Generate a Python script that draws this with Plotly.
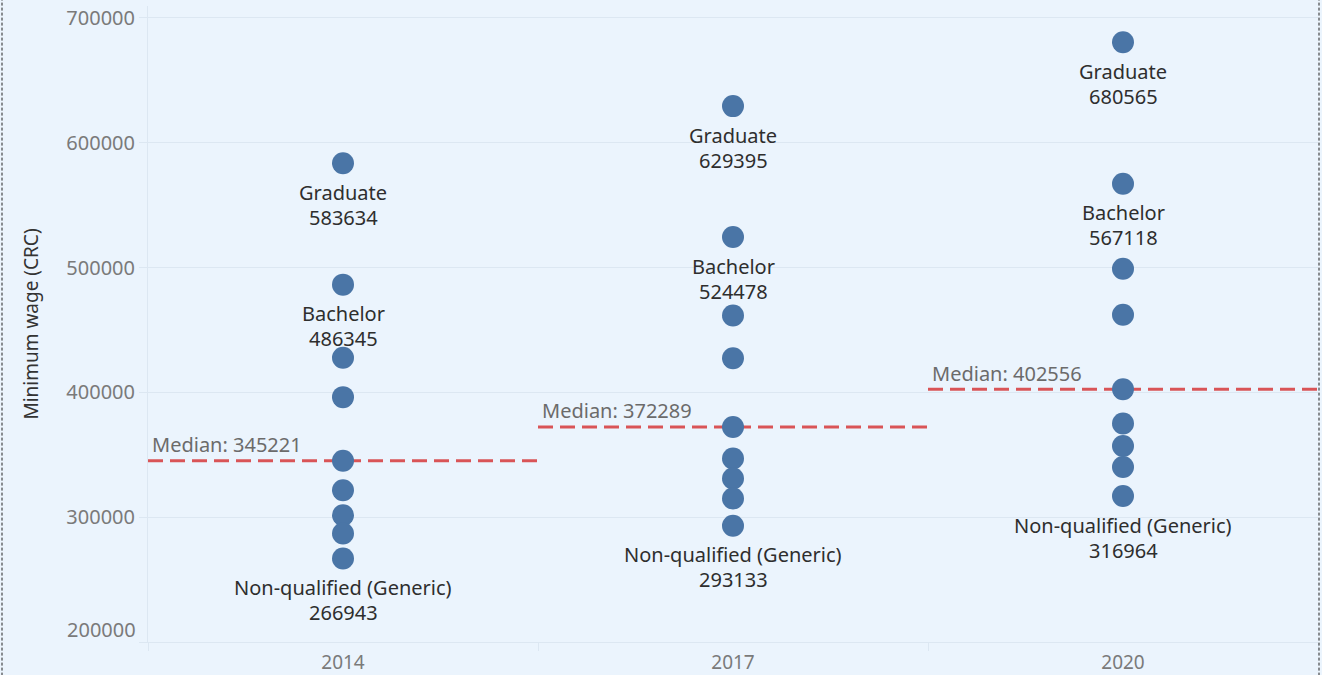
import numpy as np
import plotly.graph_objects as go

# Minimum wage by qualification level (CRC), one column per year
years = ["2014", "2017", "2020"]

wages_2014 = [583634, 486345, 427800, 396200, 345221, 321600, 301600, 287000, 266943]
wages_2017 = [629395, 524478, 461600, 427400, 372289, 347000, 331000, 315000, 293133]
wages_2020 = [680565, 567118, 499000, 462200, 402556, 375000, 357000, 340200, 316964]

levels_2014 = ["Graduate", "Bachelor", "", "", "", "", "", "", "Non-qualified (Generic)"]
levels_2017 = ["Graduate", "Bachelor", "", "", "", "", "", "", "Non-qualified (Generic)"]
levels_2020 = ["Graduate", "Bachelor", "", "", "", "", "", "", "Non-qualified (Generic)"]

y_ticks = [200000, 300000, 400000, 500000, 600000, 700000]

wages = [wages_2014, wages_2017, wages_2020]
levels = [levels_2014, levels_2017, levels_2020]

FONT = "Noto Sans"
BG = "#ebf4fd"
GRID = "#dce7f2"
DOT = "#4a75a6"
MEDIAN = "#d95457"
LABEL = "#2e2e2e"
TICK = "#7a7a7a"

fig = go.Figure()

xs, ys = [], []
for yr, vals in zip(years, wages):
    xs += [yr] * len(vals)
    ys += vals

fig.add_trace(go.Scatter(
    x=xs, y=ys, mode="markers",
    marker=dict(size=22, color=DOT, line=dict(width=0)),
    hoverinfo="x+y", showlegend=False,
))

annotations = []
shapes = []
for i, (vals, names) in enumerate(zip(wages, levels)):
    # level name and value under the labelled dots
    for v, name in zip(vals, names):
        if not name:
            continue
        annotations.append(dict(x=i, y=v, xref="x", yref="y", text=name,
                                showarrow=False, yanchor="middle", yshift=-29,
                                font=dict(family=FONT, size=20, color=LABEL)))
        annotations.append(dict(x=i, y=v, xref="x", yref="y", text=str(v),
                                showarrow=False, yanchor="middle", yshift=-54,
                                font=dict(family=FONT, size=20, color=LABEL)))
    # median reference line across the year band
    med = float(np.median(vals))
    shapes.append(dict(type="line", xref="x", yref="y",
                       x0=i - 0.5, x1=i + 0.5, y0=med, y1=med,
                       line=dict(color=MEDIAN, width=3, dash="15px,7px"),
                       layer="below"))
    annotations.append(dict(x=i - 0.5, y=med, xref="x", yref="y",
                            text=f"Median: {int(med)}", showarrow=False,
                            xanchor="left", yanchor="middle", xshift=2, yshift=16,
                            font=dict(family=FONT, size=20, color="#6b6b6b")))

# lowest tick label sits just above the axis floor
annotations.append(dict(x=0, y=y_ticks[0], xref="paper", yref="y",
                        text=str(y_ticks[0]), showarrow=False,
                        xanchor="right", yanchor="middle", xshift=-10, yshift=13,
                        font=dict(family=FONT, size=20, color=TICK)))

# dashed frame around the view
for xp in (-146 / 1170, 1171 / 1170):
    shapes.append(dict(type="line", xref="paper", yref="paper",
                       x0=xp, x1=xp, y0=-0.1, y1=1.1,
                       line=dict(color="#222222", width=1, dash="3px,2px")))

fig.update_layout(
    width=1322, height=675,
    margin=dict(l=148, r=4, t=6, b=33, autoexpand=False),
    paper_bgcolor=BG, plot_bgcolor=BG,
    font=dict(family=FONT, size=20, color=TICK),
    annotations=annotations,
    shapes=shapes,
    showlegend=False,
)

fig.update_xaxes(
    type="category", categoryorder="array", categoryarray=years,
    range=[-0.5, 2.5], automargin=False,
    showgrid=False, zeroline=False,
    showline=True, linecolor=GRID, linewidth=1,
    ticks="outside", tickson="boundaries", ticklen=8, tickcolor=GRID,
    ticklabelstandoff=3,
    tickfont=dict(family=FONT, size=19, color=TICK),
)

fig.update_yaxes(
    range=[200000, 709600], automargin=False,
    tickvals=y_ticks, ticktext=[""] + [str(t) for t in y_ticks[1:]],
    showgrid=True, gridcolor=GRID, gridwidth=1, zeroline=False,
    showline=True, linecolor=GRID, linewidth=1,
    ticks="outside", ticklen=8, tickcolor=GRID,
    tickfont=dict(family=FONT, size=20, color=TICK),
    title=dict(text="Minimum wage (CRC)", standoff=22,
               font=dict(family=FONT, size=19, color="#333333")),
)

fig.write_html("out.html")
